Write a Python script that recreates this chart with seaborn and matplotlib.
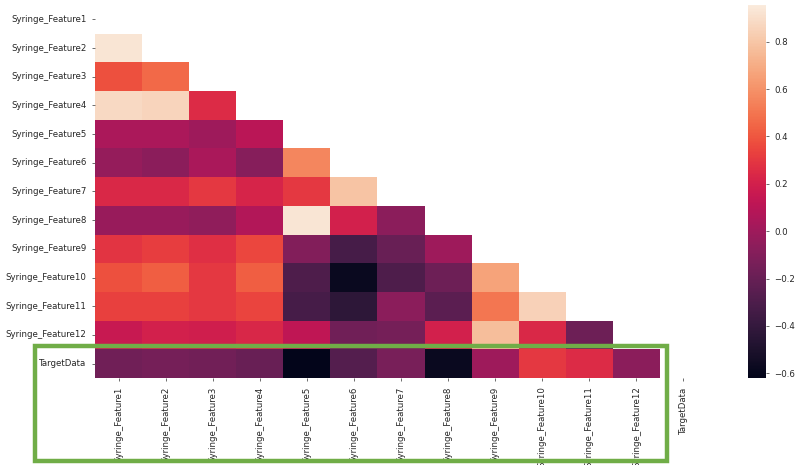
import numpy as np
import pandas as pd
import seaborn as sns
import matplotlib
matplotlib.use("Agg")
import matplotlib.pyplot as plt
from matplotlib.patches import Rectangle

labels = [f"Syringe_Feature{i}" for i in range(1, 13)] + ["TargetData"]

# Lower-triangle correlation values, row by row (row i holds corr with columns 0..i-1)
row_f2 = [0.93]
row_f3 = [0.38, 0.46]
row_f4 = [0.88, 0.86, 0.25]
row_f5 = [0.05, 0.05, 0.00, 0.10]
row_f6 = [-0.03, -0.07, 0.04, -0.09, 0.56]
row_f7 = [0.24, 0.24, 0.30, 0.22, 0.30, 0.79]
row_f8 = [-0.02, -0.02, -0.05, 0.07, 0.93, 0.20, -0.07]
row_f9 = [0.29, 0.32, 0.27, 0.35, -0.10, -0.33, -0.20, 0.00]
row_f10 = [0.38, 0.42, 0.30, 0.42, -0.30, -0.58, -0.30, -0.18, 0.66]
row_f11 = [0.33, 0.33, 0.30, 0.34, -0.33, -0.43, -0.07, -0.25, 0.50, 0.85]
row_f12 = [0.15, 0.20, 0.19, 0.23, 0.12, -0.17, -0.15, 0.20, 0.77, 0.24, -0.18]
row_target = [-0.17, -0.15, -0.16, -0.20, -0.62, -0.27, -0.14, -0.58, 0.00, 0.30, 0.25, -0.07]

rows = [row_f2, row_f3, row_f4, row_f5, row_f6, row_f7, row_f8,
        row_f9, row_f10, row_f11, row_f12, row_target]

n = len(labels)
corr = np.eye(n)
for i, r in enumerate(rows, start=1):
    for j, v in enumerate(r):
        corr[i, j] = v
        corr[j, i] = v
corr_df = pd.DataFrame(corr, index=labels, columns=labels)

mask = np.triu(np.ones_like(corr, dtype=bool))

W, H = 796, 465
fig = plt.figure(figsize=(W / 100, H / 100), dpi=100)
ax = fig.add_axes([95 / W, (H - 378) / H, 612 / W, 373 / H])
cax = fig.add_axes([748 / W, (H - 378) / H, 18 / W, 373 / H])

sns.heatmap(corr_df, mask=mask, ax=ax, cbar_ax=cax, vmin=-0.62, vmax=0.955)

ax.tick_params(axis="both", labelsize=6.2, length=2.5, width=0.6, color="#555555")
ax.set_xticklabels(labels, rotation=90)
ax.set_yticklabels(labels, rotation=0)
cax.tick_params(labelsize=6.2, length=2.5, width=0.6, color="#555555")
cax.set_yticks([-0.6, -0.4, -0.2, 0.0, 0.2, 0.4, 0.6, 0.8])
for t in ax.get_xticklabels() + ax.get_yticklabels() + cax.get_yticklabels():
    t.set_color("#262626")

# Highlight box around the target row and the feature labels
fig.add_artist(Rectangle((35 / W, (H - 461) / H), 632 / W, 115 / H,
                         transform=fig.transFigure, fill=False,
                         edgecolor="#70ad47", linewidth=3.2, clip_on=False))

fig.savefig("out.png", dpi=100)
